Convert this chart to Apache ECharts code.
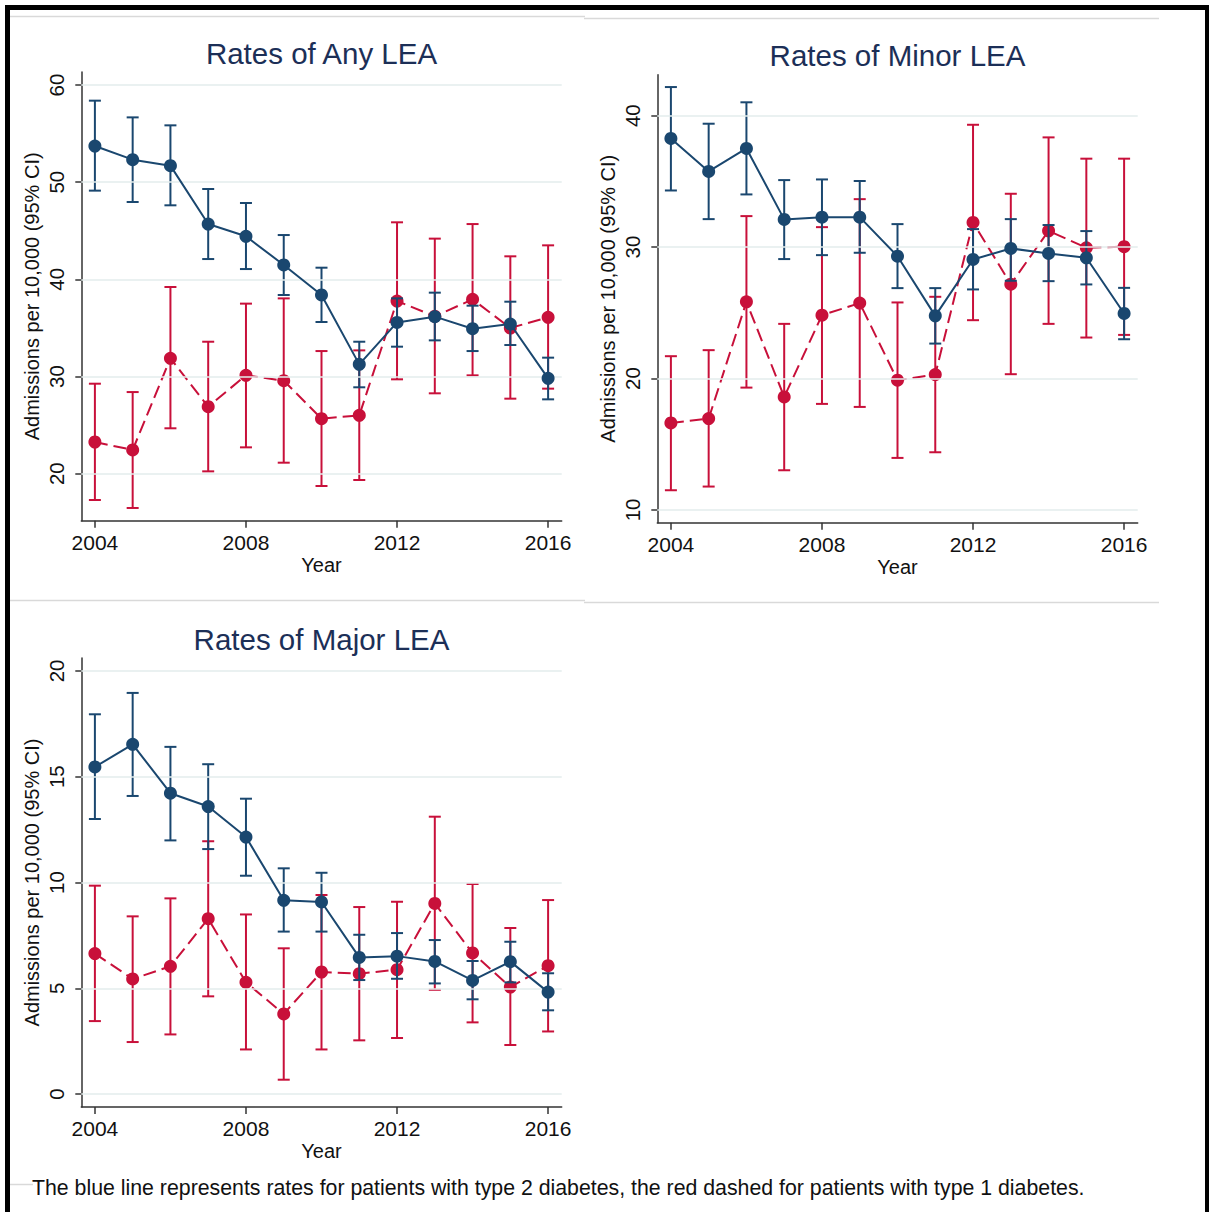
<!DOCTYPE html>
<html>
<head>
<meta charset="utf-8">
<title>Rates of LEA</title>
<script src="https://cdn.jsdelivr.net/npm/echarts@6/dist/echarts.min.js"></script>
<style>
  html, body { margin: 0; padding: 0; background: #fff; }
  #chart { width: 1209px; height: 1212px; }
</style>
</head>
<body>
<div id="chart"></div>
<script>
// Years on the x axis
const years = [2004, 2005, 2006, 2007, 2008, 2009, 2010, 2011, 2012, 2013, 2014, 2015, 2016];
const yearTicks = [2004, 2008, 2012, 2016];

// Any LEA: type 2 (blue) and type 1 (red), rate with 95% CI
const anyT2   = [53.72, 52.32, 51.70, 45.69, 44.43, 41.48, 38.39, 31.25, 35.57, 36.16, 34.92, 35.40, 29.81];
const anyT2Lo = [49.13, 47.96, 47.62, 42.09, 41.06, 38.39, 35.61, 28.89, 33.07, 33.72, 32.62, 33.24, 27.65];
const anyT2Hi = [58.39, 56.67, 55.85, 49.30, 47.86, 44.56, 41.20, 33.58, 38.04, 38.63, 37.29, 37.70, 31.94];
const anyT1   = [23.26, 22.44, 31.87, 26.90, 30.12, 29.57, 25.66, 26.00, 37.77, 36.20, 37.94, 34.99, 36.09];
const anyT1Lo = [17.29, 16.47, 24.67, 20.24, 22.71, 21.13, 18.73, 19.35, 29.71, 28.27, 30.12, 27.72, 28.75];
const anyT1Hi = [29.26, 28.40, 39.21, 33.58, 37.50, 38.04, 32.62, 32.69, 45.87, 44.19, 45.69, 42.37, 43.50];
const anyTicks = [20, 30, 40, 50, 60];

// Minor LEA
const minorT2   = [38.27, 35.76, 37.51, 32.11, 32.28, 32.28, 29.31, 24.77, 29.06, 29.90, 29.52, 29.19, 24.95];
const minorT2Lo = [34.31, 32.13, 34.01, 29.09, 29.39, 29.57, 26.88, 22.66, 26.78, 27.44, 27.41, 27.16, 22.99];
const minorT2Hi = [42.18, 39.39, 41.02, 35.10, 35.15, 35.03, 31.75, 26.88, 31.37, 32.13, 31.68, 31.22, 26.90];
const minorT1   = [16.62, 16.95, 25.84, 18.60, 24.82, 25.74, 19.87, 20.30, 31.88, 27.18, 31.24, 29.95, 30.03];
const minorT1Lo = [11.50, 11.78, 19.31, 13.02, 18.07, 17.84, 13.96, 14.39, 24.44, 20.33, 24.16, 23.12, 23.32];
const minorT1Hi = [21.70, 22.16, 32.36, 24.16, 31.52, 33.65, 25.79, 26.22, 39.31, 34.06, 38.35, 36.73, 36.73];
const minorTicks = [10, 20, 30, 40];

// Major LEA
const majorT2   = [15.46, 16.53, 14.22, 13.59, 12.15, 9.16, 9.08, 6.46, 6.52, 6.27, 5.37, 6.26, 4.82];
const majorT2Lo = [13.00, 14.09, 11.99, 11.58, 10.32, 7.68, 7.68, 5.39, 5.45, 5.23, 4.48, 5.28, 3.96];
const majorT2Hi = [17.95, 18.96, 16.41, 15.59, 13.96, 10.67, 10.46, 7.53, 7.61, 7.28, 6.29, 7.20, 5.71];
const majorT1   = [6.64, 5.44, 6.04, 8.29, 5.28, 3.79, 5.77, 5.69, 5.88, 9.01, 6.67, 5.06, 6.07];
const majorT1Lo = [3.45, 2.46, 2.82, 4.62, 2.11, 0.68, 2.11, 2.54, 2.65, 4.93, 3.39, 2.32, 2.96];
const majorT1Hi = [9.85, 8.40, 9.25, 11.95, 8.49, 6.89, 9.41, 8.84, 9.09, 13.11, 9.93, 7.85, 9.17];
const majorTicks = [0, 5, 10, 15, 20];

const titles = ['Rates of Any LEA', 'Rates of Minor LEA', 'Rates of Major LEA'];
const yName = 'Admissions per 10,000 (95% CI)';
const xName = 'Year';
const caption = 'The blue line represents rates for patients with type 2 diabetes, the red dashed for patients with type 1 diabetes.';

const BLUE = '#1a476f';
const RED = '#c8103a';
const AXIS = '#333333';
const GRID = '#e3ecec';
const FONT = '"Liberation Sans", Arial, Helvetica, sans-serif';

const panels = [
  { t2: anyT2, t2Lo: anyT2Lo, t2Hi: anyT2Hi, t1: anyT1, t1Lo: anyT1Lo, t1Hi: anyT1Hi, ticks: anyTicks,
    yMin: 15.16, yMax: 61.34, grid: { left: 81.3, top: 72, width: 480.4, height: 448.7 } },
  { t2: minorT2, t2Lo: minorT2Lo, t2Hi: minorT2Hi, t1: minorT1, t1Lo: minorT1Lo, t1Hi: minorT1Hi, ticks: minorTicks,
    yMin: 9.03, yMax: 43.12, grid: { left: 657.3, top: 74.7, width: 480.4, height: 448 } },
  { t2: majorT2, t2Lo: majorT2Lo, t2Hi: majorT2Hi, t1: majorT1, t1Lo: majorT1Lo, t1Hi: majorT1Hi, ticks: majorTicks,
    yMin: -0.61, yMax: 20.61, grid: { left: 81.3, top: 658, width: 480.4, height: 449 } }
];

function pairs(xs, ys) { return xs.map((x, i) => [x, ys[i]]); }
function triples(xs, lo, hi) { return xs.map((x, i) => [x, lo[i], hi[i]]); }

// Vertical CI bar with caps at both ends
function errorBar(color) {
  return function (params, api) {
    const x = api.value(0);
    const pLo = api.coord([x, api.value(1)]);
    const pHi = api.coord([x, api.value(2)]);
    const half = 6;
    const style = { stroke: color, lineWidth: 2, fill: null };
    return {
      type: 'group',
      children: [
        { type: 'line', shape: { x1: pLo[0], y1: pLo[1], x2: pHi[0], y2: pHi[1] }, style: style },
        { type: 'line', shape: { x1: pLo[0] - half, y1: pLo[1], x2: pLo[0] + half, y2: pLo[1] }, style: style },
        { type: 'line', shape: { x1: pHi[0] - half, y1: pHi[1], x2: pHi[0] + half, y2: pHi[1] }, style: style }
      ]
    };
  };
}

const grids = [], xAxes = [], yAxes = [], series = [];
const intFmt = v => String(Math.round(v));

panels.forEach((p, k) => {
  grids.push(Object.assign({ outerBoundsMode: 'none', containLabel: false }, p.grid));
  xAxes.push({
    type: 'value', gridIndex: k, min: 2003.64, max: 2016.36,
    name: xName, nameLocation: 'middle', nameGap: 34,
    nameTextStyle: { fontFamily: FONT, fontSize: 20, color: '#111' },
    axisLine: { onZero: false, lineStyle: { color: AXIS, width: 1.5 } },
    axisTick: { customValues: yearTicks, length: 7, lineStyle: { color: AXIS, width: 1.5 } },
    axisLabel: { customValues: yearTicks, formatter: intFmt, margin: 11,
                 fontFamily: FONT, fontSize: 21, color: '#111' },
    splitLine: { show: false }
  });
  yAxes.push({
    type: 'value', gridIndex: k, min: p.yMin, max: p.yMax,
    name: yName, nameLocation: 'middle', nameGap: 39, nameRotate: 90,
    nameTextStyle: { fontFamily: FONT, fontSize: 20, color: '#111' },
    axisLine: { show: true, onZero: false, lineStyle: { color: AXIS, width: 1.5 } },
    axisTick: { show: true, customValues: p.ticks, length: 6, lineStyle: { color: AXIS, width: 1.5 } },
    axisLabel: { customValues: p.ticks, formatter: intFmt, rotate: 90, margin: 14,
                 fontFamily: FONT, fontSize: 20.5, color: '#111' },
    splitLine: { show: false }
  });

  // Horizontal gridlines at the labelled ticks
  series.push({
    type: 'line', xAxisIndex: k, yAxisIndex: k, z: 1, silent: true,
    data: pairs(years, p.t2), symbol: 'none', lineStyle: { opacity: 0 },
    markLine: {
      silent: true, symbol: ['none', 'none'], label: { show: false },
      lineStyle: { color: GRID, width: 1.5, type: 'solid' },
      emphasis: { disabled: true },
      data: p.ticks.map(v => ({ yAxis: v }))
    }
  });

  // Type 1 (red, dashed) underneath, type 2 (blue) on top
  series.push({
    type: 'custom', xAxisIndex: k, yAxisIndex: k, z: 2, clip: false,
    renderItem: errorBar(RED), data: triples(years, p.t1Lo, p.t1Hi),
    encode: { x: 0, y: [1, 2] }
  });
  series.push({
    type: 'line', xAxisIndex: k, yAxisIndex: k, z: 3,
    data: pairs(years, p.t1), symbol: 'circle', symbolSize: 13, showSymbol: true,
    lineStyle: { color: RED, width: 2, type: [13, 6] }, itemStyle: { color: RED }
  });
  series.push({
    type: 'custom', xAxisIndex: k, yAxisIndex: k, z: 4, clip: false,
    renderItem: errorBar(BLUE), data: triples(years, p.t2Lo, p.t2Hi),
    encode: { x: 0, y: [1, 2] }
  });
  series.push({
    type: 'line', xAxisIndex: k, yAxisIndex: k, z: 5,
    data: pairs(years, p.t2), symbol: 'circle', symbolSize: 13, showSymbol: true,
    lineStyle: { color: BLUE, width: 2, type: 'solid' }, itemStyle: { color: BLUE }
  });
});

const TITLE_COLOR = '#1c2f57';
function titleText(text, x, y) {
  return { type: 'text', x: x, y: y, z: 10,
    style: { text: text, fill: TITLE_COLOR, font: '29.5px ' + FONT,
             textAlign: 'center', textVerticalAlign: 'middle', align: 'center', verticalAlign: 'middle' } };
}
function hLine(x1, x2, y, color, w) {
  return { type: 'line', z: 0, shape: { x1: x1, y1: y, x2: x2, y2: y }, style: { stroke: color, lineWidth: w } };
}

const graphics = [
  // outer frame: panel separators and heavy border
  hLine(10, 585, 16.5, '#d9d9d9', 1.5),
  hLine(584, 1159, 18.5, '#d9d9d9', 1.5),
  hLine(10, 585, 600.5, '#d9d9d9', 1.5),
  hLine(584, 1159, 602.5, '#d9d9d9', 1.5),
  hLine(10, 33, 1184.5, '#d9d9d9', 1.5),
  { type: 'rect', z: 20, shape: { x: 5, y: 5, width: 1204, height: 5 }, style: { fill: '#000' } },
  { type: 'rect', z: 20, shape: { x: 5, y: 5, width: 5, height: 1207 }, style: { fill: '#000' } },
  { type: 'rect', z: 20, shape: { x: 1205, y: 5, width: 4, height: 1207 }, style: { fill: '#000' } },
  titleText(titles[0], 321.5, 53.6),
  titleText(titles[1], 897.5, 55.6),
  titleText(titles[2], 321.5, 639),
  { type: 'text', x: 32, y: 1188, z: 10,
    style: { text: caption, fill: '#111', font: '21.3px ' + FONT,
             textAlign: 'left', textVerticalAlign: 'middle', align: 'left', verticalAlign: 'middle' } }
];

const chart = echarts.init(document.getElementById('chart'), null, { renderer: 'svg' });
chart.setOption({
  backgroundColor: '#ffffff',
  animation: false,
  grid: grids,
  xAxis: xAxes,
  yAxis: yAxes,
  series: series,
  graphic: graphics
});
</script>
</body>
</html>
